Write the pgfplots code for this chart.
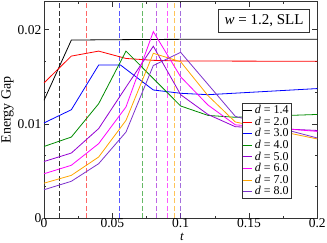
\documentclass[border=0pt]{standalone}
\usepackage{fontspec}
\setmainfont{Liberation Serif}
\usepackage{pgfplots}
\pgfplotsset{compat=1.18}
\definecolor{cgreen}{RGB}{0,139,0}
\definecolor{cviolet}{RGB}{148,0,211}
\definecolor{cmag}{RGB}{255,0,255}
\definecolor{corange}{RGB}{255,165,0}
\definecolor{cindigo}{RGB}{125,50,205}
\begin{document}
\begin{tikzpicture}[x=1pt,y=1pt]
\path[use as bounding box] (-44,-24) rectangle (283,218);
\begin{axis}[
  at={(0,0)}, anchor=south west,
  width=273.3pt, height=216.5pt, scale only axis,
  xmin=0, xmax=0.2, ymin=0, ymax=0.023,
  xtick={0,0.05,0.1,0.15,0.2}, xticklabels={0,0.05,0.1,0.15,0.2},
  ytick={0,0.01,0.02}, yticklabels={0,0.01,0.02},
  minor x tick num=1, minor y tick num=2,
  tick align=inside, major tick length=5pt, minor tick length=2.5pt,
  scaled ticks=false,
  /pgf/number format/assume math mode=true,
  ticklabel style={font=\fontsize{13.5}{13.5}\selectfont},
  xticklabel style={inner ysep=0.3pt, yshift=-0.5pt},
  yticklabel style={inner xsep=2.5pt},
  axis line style={line width=0.7pt, black!80},
  every tick/.style={black!80, line width=0.6pt},
  xlabel={\textit{t}}, ylabel={Energy Gap},
  every axis x label/.style={at={(axis description cs:0.505,-0.0855)}, anchor=center, inner sep=0pt, font=\fontsize{13}{13}\selectfont},
  every axis y label/.style={at={(axis description cs:-0.134,0.5)}, rotate=90, anchor=center, inner sep=0pt, font=\fontsize{14}{14}\selectfont},
  legend style={at={(axis description cs:0.7234,0.530)}, anchor=north west,
    draw=black!80, line width=0.6pt, fill=white,
    font=\fontsize{12}{12}\selectfont,
    nodes={inner ysep=0.6pt, inner xsep=2pt, text height=8.6pt, text depth=1.8pt},
    inner xsep=1pt, inner ysep=1pt},
  legend cell align=left,
  legend image code/.code={\draw[#1, line width=0.8pt] (0pt,0pt) -- (9pt,0pt);},
  clip=true,
]
% vertical dashed markers
\addplot[forget plot, black, opacity=0.8, line width=0.9pt, dash pattern=on 5pt off 2.5pt] coordinates {(0.0112,0) (0.0112,0.023)};
\addplot[forget plot, red, opacity=0.6, line width=0.9pt, dash pattern=on 5pt off 2.5pt] coordinates {(0.0308,0) (0.0308,0.023)};
\addplot[forget plot, blue, opacity=0.65, line width=0.9pt, dash pattern=on 5pt off 2.5pt] coordinates {(0.0549,0) (0.0549,0.023)};
\addplot[forget plot, cgreen, opacity=0.6, line width=0.9pt, dash pattern=on 5pt off 2.5pt] coordinates {(0.0720,0) (0.0720,0.023)};
\addplot[forget plot, cviolet, opacity=0.6, line width=0.9pt, dash pattern=on 5pt off 2.5pt] coordinates {(0.0826,0) (0.0826,0.023)};
\addplot[forget plot, cmag, opacity=0.65, line width=0.9pt, dash pattern=on 5pt off 2.5pt] coordinates {(0.0906,0) (0.0906,0.023)};
\addplot[forget plot, corange, opacity=0.65, line width=0.9pt, dash pattern=on 5pt off 2.5pt] coordinates {(0.0955,0) (0.0955,0.023)};
\addplot[forget plot, cindigo, opacity=0.7, line width=0.9pt, dash pattern=on 5pt off 2.5pt] coordinates {(0.0999,0) (0.0999,0.023)};
% curves
\addplot[black, line width=0.8pt] coordinates {(0,0.0125) (0.02,0.0189) (0.04,0.01893) (0.06,0.01895) (0.08,0.01897) (0.1,0.01898) (0.2,0.0190)};
\addlegendentry{\textit{d} = 1.4}
\addplot[red, line width=0.8pt] coordinates {(0,0.01435) (0.02,0.0172) (0.04,0.01773) (0.06,0.01695) (0.08,0.01675) (0.1,0.01668) (0.2,0.01665)};
\addlegendentry{\textit{d} = 2.0}
\addplot[blue, line width=0.8pt] coordinates {(0,0.0101) (0.02,0.0115) (0.04,0.01625) (0.056,0.01625) (0.08,0.01360) (0.1,0.01325) (0.12,0.0131) (0.2,0.01375)};
\addlegendentry{\textit{d} = 3.0}
\addplot[cgreen, line width=0.8pt] coordinates {(0,0.0076) (0.02,0.0086) (0.04,0.01214) (0.06,0.01773) (0.1,0.0119) (0.12,0.0109) (0.14,0.0107) (0.2,0.0110)};
\addlegendentry{\textit{d} = 4.0}
\addplot[cviolet, line width=0.8pt] coordinates {(0,0.0060) (0.02,0.0069) (0.04,0.0095) (0.06,0.0139) (0.08,0.01825) (0.1,0.0131) (0.12,0.0110) (0.14,0.0097) (0.2,0.0093)};
\addlegendentry{\textit{d} = 5.0}
\addplot[cmag, line width=0.8pt] coordinates {(0,0.0047) (0.02,0.0056) (0.04,0.0079) (0.06,0.0118) (0.08,0.0198) (0.1,0.0150) (0.12,0.0120) (0.14,0.0099) (0.2,0.0092)};
\addlegendentry{\textit{d} = 6.0}
\addplot[corange, line width=0.8pt] coordinates {(0,0.0037) (0.02,0.00453) (0.04,0.00648) (0.06,0.01037) (0.08,0.0175) (0.1,0.0166) (0.12,0.0130) (0.14,0.0102) (0.2,0.0084)};
\addlegendentry{\textit{d} = 7.0}
\addplot[cindigo, line width=0.8pt] coordinates {(0,0.0030) (0.02,0.0039) (0.04,0.00577) (0.06,0.00913) (0.08,0.0162) (0.1,0.0176) (0.12,0.0142) (0.14,0.0108) (0.2,0.0085)};
\addlegendentry{\textit{d} = 8.0}
\node[draw=black!80, line width=0.6pt, fill=white, inner sep=0pt, minimum width=91pt, minimum height=23pt,
  font=\fontsize{15}{15}\selectfont] at (axis description cs:0.805,0.911) {\textit{w} = 1.2, SLL};
\end{axis}
\end{tikzpicture}
\end{document}
